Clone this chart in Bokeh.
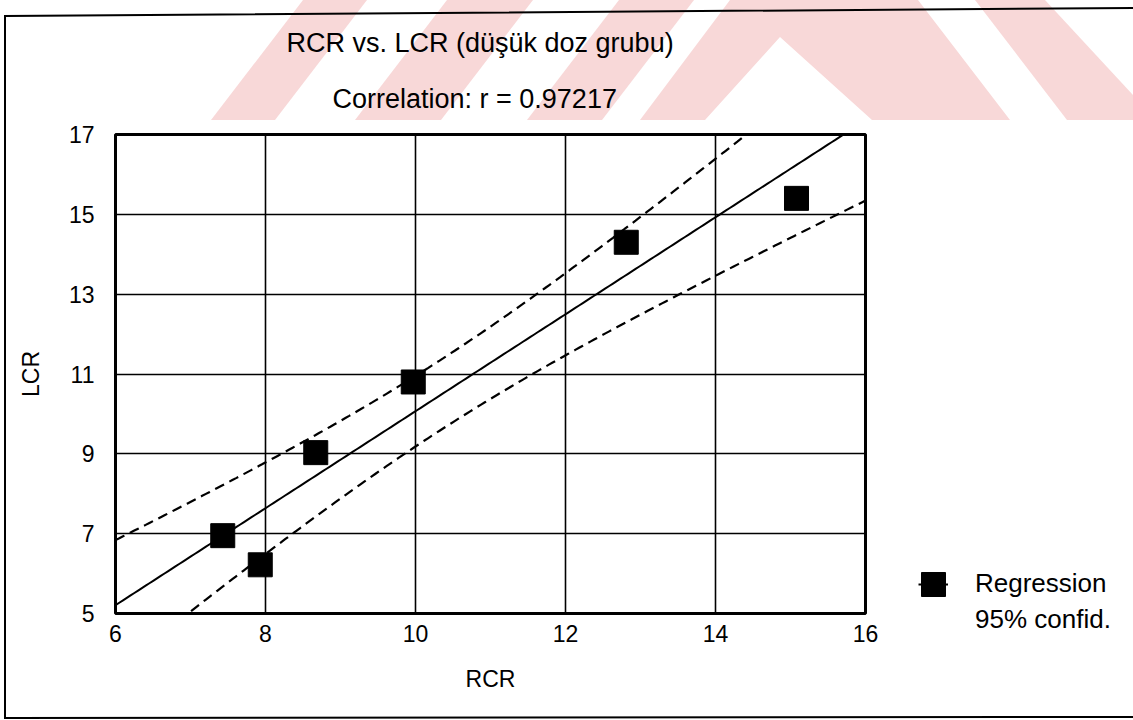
import numpy as np
from urllib.parse import quote
from bokeh.plotting import figure
from bokeh.models import Title, Legend, LegendItem, Range1d
from bokeh.embed import file_html
from bokeh.resources import INLINE

# ---- data ----
rcr = [7.43, 7.93, 8.67, 9.97, 12.81, 15.08]
lcr = [6.95, 6.22, 9.03, 10.80, 14.30, 15.40]
x_ticks = [6, 8, 10, 12, 14, 16]
y_ticks = [5, 7, 9, 11, 13, 15, 17]
title_text = "RCR vs. LCR (düşük doz grubu)"
corr_text = "Correlation: r = 0.97217"
legend_labels = ["Regression", "95% confid."]
x_label = "RCR"
y_label = "LCR"
t_crit = 2.132  # band multiplier

# ---- regression + confidence band from the data ----
xa = np.array(rcr)
ya = np.array(lcr)
slope, intercept = np.polyfit(xa, ya, 1)
n = len(xa)
resid = ya - (slope * xa + intercept)
s = np.sqrt(np.sum(resid ** 2) / (n - 2))
sxx = np.sum((xa - xa.mean()) ** 2)
xg = np.linspace(x_ticks[0], x_ticks[-1], 200)
fit = slope * xg + intercept
half = t_crit * s * np.sqrt(1.0 / n + (xg - xa.mean()) ** 2 / sxx)

# ---- page decoration (scan frame + pink watermark) as CSS background ----
pink = "#f8d8d8"
wm = [
    [(211, 120), (275, 120), (367, 0), (303, 0)],
    [(355, 120), (441, 120), (533, 0), (447, 0)],
    [(527, 120), (602, 120), (694, 0), (619, 0)],
    [(640, 120), (705, 120), (780, 37), (872, 120), (1010, 120), (918, 0), (730, 0)],
    [(975, 0), (1045, 0), (1133, 95), (1133, 120), (1067, 120)],
]
svg = "<svg xmlns='http://www.w3.org/2000/svg' width='1133' height='720'>"
for poly in wm:
    pts = " ".join(f"{a},{b}" for a, b in poly)
    svg += f"<polygon points='{pts}' fill='{pink}'/>"
svg += "<polyline points='1133,8 5,16 5,718 1133,717' fill='none' stroke='black' stroke-width='2'/>"
svg += "</svg>"
bg = {"background-image": f'url("data:image/svg+xml,{quote(svg)}")',
      "background-repeat": "no-repeat", "background-size": "1133px 720px"}

# ---- figure ----
FONT = "Liberation Sans"

p = figure(frame_width=750, frame_height=479, output_backend="svg", toolbar_location=None,
           x_range=Range1d(x_ticks[0], x_ticks[-1]),
           y_range=Range1d(y_ticks[0], y_ticks[-1]),
           min_border_left=115, min_border_right=268,
           min_border_top=134, min_border_bottom=107, styles=bg)

p.background_fill_color = "white"
p.border_fill_color = None
p.outline_line_color = "black"
p.outline_line_width = 3

for ax in (p.xaxis[0], p.yaxis[0]):
    ax.axis_line_color = None
    ax.major_tick_out = 0
    ax.major_tick_in = 0
    ax.minor_tick_out = 0
    ax.minor_tick_in = 0
    ax.major_label_text_font = FONT
    ax.major_label_text_font_size = "23px"
    ax.major_label_text_color = "black"
    ax.axis_label_text_font = FONT
    ax.axis_label_text_font_size = "23px"
    ax.axis_label_text_font_style = "normal"
    ax.axis_label_text_color = "black"

p.xaxis.ticker = x_ticks
p.yaxis.ticker = y_ticks
p.xaxis.axis_label = x_label
p.yaxis.axis_label = y_label
p.xaxis.major_label_standoff = 11
p.yaxis.major_label_standoff = 21
p.xaxis.axis_label_standoff = 21
p.yaxis.axis_label_standoff = 22

p.xgrid.ticker = x_ticks
p.ygrid.ticker = y_ticks
for g in (p.xgrid[0], p.ygrid[0]):
    g.grid_line_color = "black"
    g.grid_line_width = 1.6
    g.grid_line_alpha = 1.0

# ---- chart content ----
reg = p.line(xg, fit, line_color="black", line_width=2)
p.line(xg, fit + half, line_color="black", line_width=2.2, line_dash="10 6")
p.line(xg, fit - half, line_color="black", line_width=2.2, line_dash="10 6")
pts = p.rect(rcr, lcr, width=24, height=24, width_units="screen", height_units="screen",
             fill_color="black", line_color="black")
blank = p.line([], [], line_alpha=0)

# ---- titles (first added sits nearest the frame) ----
p.add_layout(Title(text=corr_text, align="left", offset=217, standoff=42,
                   text_font=FONT, text_font_size="27px", text_font_style="normal",
                   text_color="black"), "above")
p.add_layout(Title(text=title_text, align="left", offset=171, standoff=5,
                   text_font=FONT, text_font_size="27px", text_font_style="normal",
                   text_color="black"), "above")

# ---- legend (right panel) ----
leg = Legend(items=[LegendItem(label=legend_labels[0], renderers=[reg, pts]),
                    LegendItem(label=legend_labels[1], renderers=[blank])],
             location=(53, -22), orientation="vertical",
             glyph_width=30, glyph_height=30, label_height=30, label_standoff=27,
             label_text_font=FONT, label_text_font_size="26px", label_text_color="black",
             border_line_color=None, background_fill_alpha=0,
             padding=0, margin=0, spacing=5)
p.add_layout(leg, "right")

open("out.html", "w").write(file_html(p, INLINE))
